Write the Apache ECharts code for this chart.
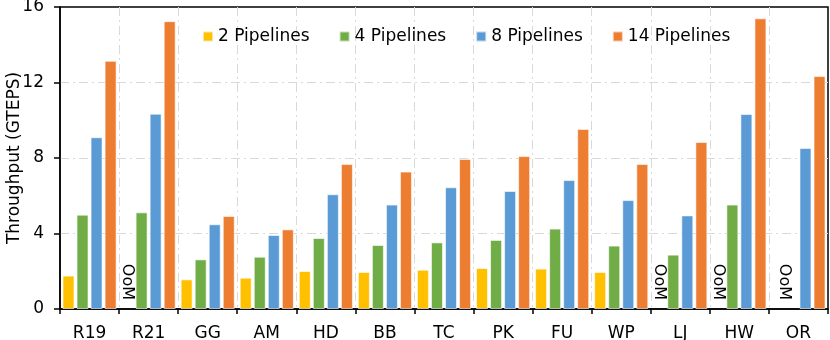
<!DOCTYPE html>
<html>
<head>
<meta charset="utf-8">
<script src="https://cdn.jsdelivr.net/npm/echarts@6/dist/echarts.min.js"></script>
<style>
  html, body { margin: 0; padding: 0; background: #fff; }
  #chart { width: 830px; height: 340px; }
</style>
</head>
<body>
<div id="chart"></div>
<script>
// 数据
const categories = ['R19', 'R21', 'GG', 'AM', 'HD', 'BB', 'TC', 'PK', 'FU', 'WP', 'LJ', 'HW', 'OR'];
const seriesNames = ['2 Pipelines', '4 Pipelines', '8 Pipelines', '14 Pipelines'];
// null = OoM (out of memory)
const pipe2 = [1.77, null, 1.57, 1.66, 2.01, 1.96, 2.08, 2.17, 2.14, 1.96, null, null, null];
const pipe4 = [5.00, 5.12, 2.63, 2.77, 3.76, 3.39, 3.53, 3.66, 4.26, 3.36, 2.88, 5.53, null];
const pipe8 = [9.10, 10.35, 4.49, 3.92, 6.08, 5.53, 6.45, 6.25, 6.83, 5.77, 4.96, 10.33, 8.53];
const pipe14 = [13.15, 15.25, 4.93, 4.22, 7.68, 7.28, 7.95, 8.10, 9.54, 7.68, 8.85, 15.40, 12.34];
const yTicks = { min: 0, max: 16, interval: 4 };

const colors = ['#FFC000', '#70AD47', '#5B9BD5', '#ED7D31'];
const FONT = '"DejaVu Sans", Verdana, sans-serif';
const gridLine = { color: '#d9d9d9', width: 1, type: [9, 4, 2, 4] };

// OoM 标签：放在 2 Pipelines 的位置，若 4 Pipelines 也缺失则居中于两者之间
// （标签旋转后 offset 在旋转坐标系内，y 负方向 = 屏幕右移）
function withOoM(values) {
  return values.map((v, i) => {
    if (v !== null) return v;
    const both = pipe4[i] === null;
    return {
      value: 0,
      itemStyle: { color: 'transparent', borderWidth: 0 },
      label: {
        show: true,
        formatter: 'OoM',
        position: 'insideBottom',
        distance: 9,
        rotate: -90,
        align: 'right',
        verticalAlign: 'middle',
        offset: both ? [0, -7] : [0, 0],
        color: '#000',
        fontSize: 16,
        fontFamily: FONT
      }
    };
  });
}

const seriesData = [withOoM(pipe2), pipe4, pipe8, pipe14];

const chart = echarts.init(document.getElementById('chart'));

const option = {
  animation: false,
  textStyle: { fontFamily: FONT },
  grid: {
    left: 60, right: 2, top: 7, bottom: 31,
    outerBoundsMode: 'none',
    containLabel: false,
    show: true,
    borderColor: '#000',
    borderWidth: 1.5
  },
  legend: {
    left: 197,
    top: 23,
    itemWidth: 10,
    itemHeight: 10,
    itemGap: 29,
    icon: 'rect',
    textStyle: { fontSize: 17, color: '#000', fontFamily: FONT },
    data: seriesNames
  },
  xAxis: {
    type: 'category',
    data: categories,
    axisLine: { lineStyle: { color: '#000', width: 1.5 } },
    axisTick: { show: true, length: 5, lineStyle: { color: '#000', width: 1.5 } },
    axisLabel: { fontSize: 17, color: '#000', margin: 16, fontFamily: FONT },
    splitLine: { show: true, showMinLine: false, showMaxLine: false, lineStyle: gridLine }
  },
  yAxis: {
    type: 'value',
    min: yTicks.min,
    max: yTicks.max,
    interval: yTicks.interval,
    name: 'Throughput (GTEPS)',
    nameLocation: 'middle',
    nameGap: 37,
    nameMoveOverlap: false,
    nameTextStyle: { fontSize: 17, color: '#000', fontFamily: FONT },
    axisLine: { show: true, lineStyle: { color: '#000', width: 1.5 } },
    axisTick: { show: true, length: 6, lineStyle: { color: '#000', width: 1.5 } },
    axisLabel: { fontSize: 17, color: '#000', margin: 16, fontFamily: FONT },
    splitLine: { show: true, showMinLine: false, showMaxLine: false, lineStyle: gridLine }
  },
  series: seriesNames.map((name, i) => ({
    name: name,
    type: 'bar',
    data: seriesData[i],
    barWidth: 12,
    barGap: '17%',
    itemStyle: {
      color: colors[i],
      borderColor: 'rgba(255,255,255,0.6)',
      borderWidth: 1
    }
  }))
};

chart.setOption(option);
</script>
</body>
</html>
